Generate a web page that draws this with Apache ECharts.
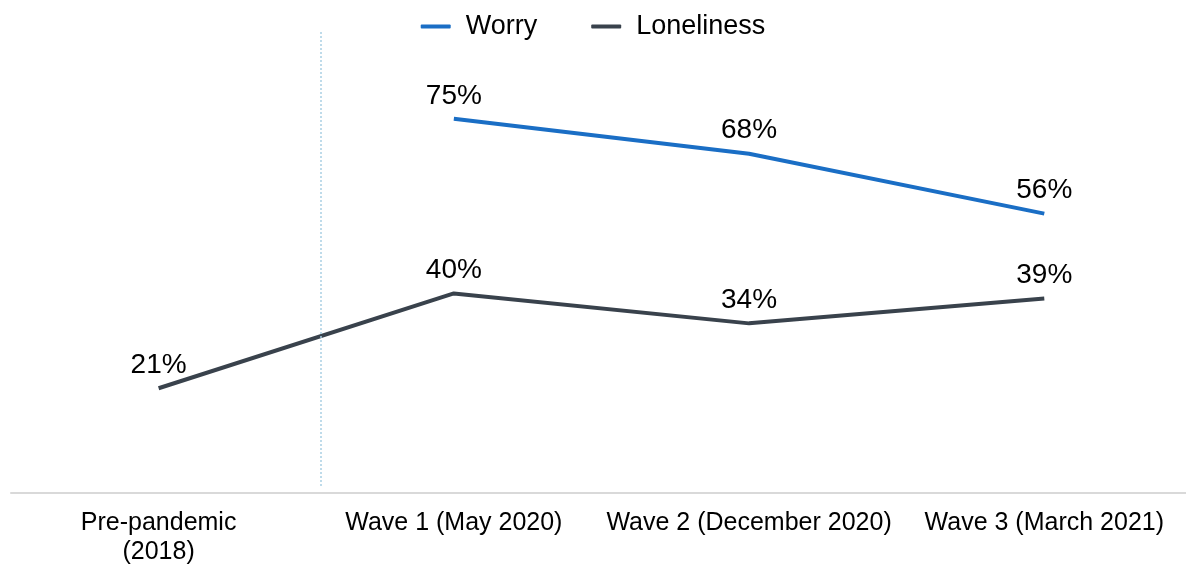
<!DOCTYPE html>
<html>
<head>
<meta charset="utf-8">
<script src="https://cdn.jsdelivr.net/npm/echarts@6/dist/echarts.min.js"></script>
<style>
html,body{margin:0;padding:0;background:#fff;}
#chart{width:1186px;height:567px;}
</style>
</head>
<body>
<div id="chart"></div>
<script>
const categories = ['Pre-pandemic\n(2018)', 'Wave 1 (May 2020)', 'Wave 2 (December 2020)', 'Wave 3 (March 2021)'];
const worry = [null, 75, 68, 56];
const loneliness = [21, 40, 34, 39];
const dividerPosition = 0.55; // between pre-pandemic and wave 1

const toPoints = arr => arr.map((v, i) => [i, v]);

const chart = echarts.init(document.getElementById('chart'));
const font = '"Liberation Sans", Arial, sans-serif';
const labelStyle = {
  show: true, position: 'top', distance: 9,
  formatter: p => p.value[1] + '%',
  fontFamily: font, fontSize: 28, color: '#000'
};
chart.setOption({
  animation: false,
  backgroundColor: '#fff',
  legend: {
    top: 8, left: 'center',
    itemWidth: 30, itemHeight: 4, itemGap: 54,
    icon: 'roundRect',
    textStyle: { fontFamily: font, fontSize: 27, color: '#000', padding: [0,0,0,10] },
    data: ['Worry', 'Loneliness']
  },
  grid: { left: 11, right: 0, top: 30, bottom: 73, containLabel: false },
  xAxis: {
    type: 'value', min: -0.5, max: 3.48, interval: 0.5,
    splitLine: { show: false },
    axisLine: { onZero: false, lineStyle: { color: '#d9d9d9', width: 2 } },
    axisTick: { show: false },
    axisLabel: {
      fontFamily: font, fontSize: 25, color: '#000', margin: 16, lineHeight: 29,
      showMinLabel: false, showMaxLabel: false,
      formatter: v => (Number.isInteger(v) && categories[v] !== undefined) ? categories[v] : ''
    }
  },
  yAxis: { type: 'value', min: 0, max: 92.8, show: false, splitLine: { show: false } },
  series: [{
    name: 'Worry', type: 'line', data: toPoints(worry), symbol: 'circle', symbolSize: 0,
    connectNulls: false,
    lineStyle: { color: '#1a6ec5', width: 4 }, itemStyle: { color: '#1a6ec5' },
    label: labelStyle
  }, {
    name: 'Loneliness', type: 'line', data: toPoints(loneliness), symbol: 'circle', symbolSize: 0,
    lineStyle: { color: '#39424c', width: 4 }, itemStyle: { color: '#39424c' },
    label: labelStyle
  }, {
    name: 'divider', type: 'line', data: [], silent: true,
    markLine: {
      silent: true, symbol: 'none', label: { show: false },
      lineStyle: { color: '#a9d0e3', type: [2, 2], width: 1.5 },
      data: [[{ coord: [dividerPosition, 1.4] }, { coord: [dividerPosition, 92.8] }]]
    }
  }]
});
</script>
</body>
</html>
